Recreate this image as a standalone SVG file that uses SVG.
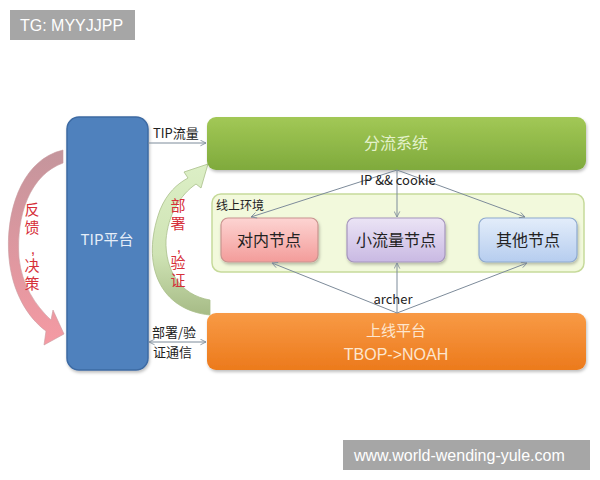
<svg xmlns="http://www.w3.org/2000/svg" width="600" height="480" viewBox="0 0 600 480">
<defs>
<linearGradient id="gGreen" x1="0" y1="0" x2="0" y2="1"><stop offset="0" stop-color="#a2c856"/><stop offset="1" stop-color="#7faa3c"/></linearGradient>
<linearGradient id="gOrange" x1="0" y1="0" x2="0" y2="1"><stop offset="0" stop-color="#f89a45"/><stop offset="1" stop-color="#ec7a1c"/></linearGradient>
<linearGradient id="gPink" x1="0" y1="0" x2="0" y2="1"><stop offset="0" stop-color="#fdd4d2"/><stop offset="1" stop-color="#f39c9a"/></linearGradient>
<linearGradient id="gPurple" x1="0" y1="0" x2="0" y2="1"><stop offset="0" stop-color="#ebe4f5"/><stop offset="1" stop-color="#c9b9e3"/></linearGradient>
<linearGradient id="gBlue" x1="0" y1="0" x2="0" y2="1"><stop offset="0" stop-color="#e3edfa"/><stop offset="1" stop-color="#b6cdef"/></linearGradient>
<linearGradient id="gArrowPink" x1="0" y1="0" x2="0" y2="1"><stop offset="0" stop-color="#c4959c"/><stop offset="1" stop-color="#f59aa3"/></linearGradient>
<linearGradient id="gArrowGreen" x1="0" y1="0" x2="0" y2="1"><stop offset="0" stop-color="#dcefc6"/><stop offset="0.6" stop-color="#cfe3b4"/><stop offset="1" stop-color="#a6bb86"/></linearGradient>
<marker id="arr" viewBox="0 0 10 10" refX="9" refY="5" markerWidth="7" markerHeight="7" orient="auto-start-reverse" markerUnits="userSpaceOnUse">
<path d="M1,1 L9,5 L1,9" fill="none" stroke="#7d8b9a" stroke-width="1.2"/>
</marker>
<filter id="sh" x="-5%" y="-10%" width="110%" height="130%"><feDropShadow dx="1" dy="2" stdDeviation="1.5" flood-color="#000" flood-opacity="0.25"/></filter>
</defs>
<style>
.lbl{font-family:"Noto Sans CJK SC","Liberation Sans",sans-serif;font-size:13px;fill:#222}
.node{font-family:"Noto Sans CJK SC","Liberation Sans",sans-serif;font-size:16px;fill:#222;text-anchor:middle}
.big{font-family:"Noto Sans CJK SC","Liberation Sans",sans-serif;font-size:16px;text-anchor:middle}
.latin{font-family:"Liberation Sans",Arial,sans-serif;font-size:16px;text-anchor:middle}
.vred{font-family:"Noto Sans CJK SC",sans-serif;font-size:15px;fill:#d6303a;writing-mode:vertical-rl;letter-spacing:3px}
.comma{font-family:"Liberation Sans",sans-serif;font-size:16px;fill:#d6303a;text-anchor:middle}
.wm{font-family:"Liberation Sans",Arial,sans-serif;font-size:16px;fill:#fff}
.conn{stroke:#7d8b9a;stroke-width:1;fill:none}
</style>
<rect width="600" height="480" fill="#fff"/>

<g id="curve-feedback">
<path d="M63,150 C20,160 5,215 9,258 C12,292 28,318 46,331 L44,345 L64,334 L53,310 L51,320 C35,305 22,285 19,258 C16,215 30,175 63,163 Z" fill="url(#gArrowPink)" stroke="#c99aa0" stroke-width="0.6"/>
<text class="vred" x="32" y="202">反馈</text>
<text class="comma" x="33" y="254">,</text>
<text class="vred" x="32" y="258">决策</text>
</g>

<g id="curve-deploy">
<path d="M210,315 C160,310 140,265 160,210 C167,193 177,184 188,178 L184,172 L208,164 L201,188 L196,184 C180,195 168,215 166,240 C165,270 180,295 210,300 Z" fill="url(#gArrowGreen)" stroke="#a9bf8a" stroke-width="0.8"/>
<text class="vred" x="178" y="198">部署</text>
<text class="comma" x="179" y="252">,</text>
<text class="vred" x="178" y="255">验证</text>
</g>

<g id="tip">
<rect x="67" y="117" width="81" height="253" rx="12" fill="#4f81bd" stroke="#3d6aa3" stroke-width="1.5" filter="url(#sh)"/>
<text class="big" x="107" y="245" fill="#e6eef8" style="font-size:15px">TIP平台</text>
</g>

<g id="fenliu">
<rect x="207" y="117" width="379" height="53" rx="9" fill="url(#gGreen)" filter="url(#sh)"/>
<text class="big" x="396" y="149" fill="#e4f2cc">分流系统</text>
</g>

<g id="env">
<rect x="212" y="194" width="372" height="78" rx="9" fill="#f2f9dc" stroke="#c6da9a" stroke-width="1.5"/>
<text class="lbl" x="216" y="210" style="font-size:12px">线上环境</text>
</g>

<g id="duinei">
<rect x="221" y="218" width="97" height="44" rx="7" fill="url(#gPink)" stroke="#c9948f" stroke-width="1.2" filter="url(#sh)"/>
<text class="node" x="269" y="246">对内节点</text>
</g>
<g id="xiaoliuliang">
<rect x="347" y="218" width="98" height="44" rx="7" fill="url(#gPurple)" stroke="#a595bd" stroke-width="1.2" filter="url(#sh)"/>
<text class="node" x="396" y="246">小流量节点</text>
</g>
<g id="qita">
<rect x="479" y="218" width="98" height="44" rx="7" fill="url(#gBlue)" stroke="#8ea9cf" stroke-width="1.2" filter="url(#sh)"/>
<text class="node" x="528" y="246">其他节点</text>
</g>

<g id="shangxian">
<rect x="207" y="313" width="379" height="57" rx="9" fill="url(#gOrange)" filter="url(#sh)"/>
<text class="big" x="396" y="336" fill="#fde6cf" style="font-size:15px">上线平台</text>
<text class="latin" x="396" y="360" fill="#fde6cf">TBOP-&gt;NOAH</text>
</g>

<g id="connectors">
<line class="conn" x1="148" y1="143" x2="206" y2="143" marker-end="url(#arr)"/>
<line class="conn" x1="149" y1="342" x2="206" y2="342" marker-start="url(#arr)" marker-end="url(#arr)"/>
<line class="conn" x1="397" y1="170" x2="251" y2="217" marker-end="url(#arr)"/>
<line class="conn" x1="397" y1="170" x2="397" y2="217" marker-end="url(#arr)"/>
<line class="conn" x1="397" y1="170" x2="525" y2="217" marker-end="url(#arr)"/>
<line class="conn" x1="397" y1="313" x2="272" y2="263" marker-end="url(#arr)"/>
<line class="conn" x1="397" y1="313" x2="397" y2="263" marker-end="url(#arr)"/>
<line class="conn" x1="397" y1="313" x2="527" y2="263" marker-end="url(#arr)"/>
</g>

<g id="labels">
<text class="lbl" x="398" y="185" text-anchor="middle">IP &amp;&amp; cookie</text>
<text class="lbl" x="393" y="304" text-anchor="middle">archer</text>
<text class="lbl" x="153" y="138">TIP流量</text>
<text class="lbl" x="152" y="337">部署/验</text>
<text class="lbl" x="153" y="357">证通信</text>
</g>

<g id="watermarks">
<rect x="10" y="10" width="125" height="30" fill="#a6a6a6"/>
<text class="wm" x="20" y="31">TG: MYYJJPP</text>
<rect x="343" y="440" width="247" height="30" fill="#a6a6a6"/>
<text class="wm" x="354" y="461">www.world-wending-yule.com</text>
</g>
</svg>
